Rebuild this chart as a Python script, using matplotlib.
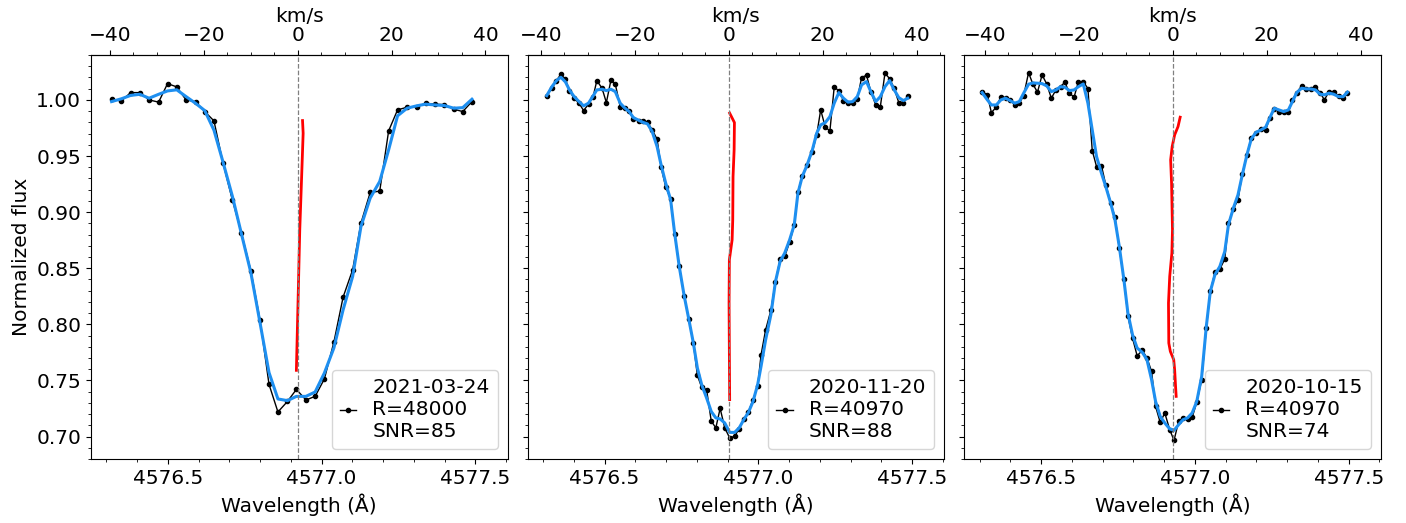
import numpy as np
import matplotlib
matplotlib.use("Agg")
import matplotlib.pyplot as plt
from matplotlib.ticker import AutoMinorLocator

C_KMS = 299792.458

# ---- panel 1: 2021-03-24 ----
wave1 = [4576.317, 4576.349, 4576.379, 4576.409, 4576.439, 4576.470, 4576.499, 4576.529,
         4576.559, 4576.590, 4576.620, 4576.650, 4576.679, 4576.710, 4576.739, 4576.770,
         4576.800, 4576.829, 4576.858, 4576.889, 4576.918, 4576.949, 4576.979, 4577.009,
         4577.040, 4577.070, 4577.101, 4577.128, 4577.158, 4577.189, 4577.218, 4577.247,
         4577.278, 4577.309, 4577.338, 4577.369, 4577.399, 4577.430, 4577.459, 4577.489]
flux1 = [1.0006, 0.9991, 1.0065, 1.0065, 1.0000, 0.9980, 1.0145, 1.0116,
         1.0000, 0.9985, 0.9896, 0.9813, 0.9442, 0.9107, 0.8818, 0.8477,
         0.8035, 0.7465, 0.7219, 0.7313, 0.7420, 0.7326, 0.7358, 0.7513,
         0.7842, 0.8243, 0.8486, 0.8902, 0.9175, 0.9187, 0.9724, 0.9911,
         0.9935, 0.9935, 0.9971, 0.9962, 0.9958, 0.9917, 0.9896, 0.9985]
smooth1 = [0.9985, 1.0010, 1.0040, 1.0050, 1.0015, 1.0050, 1.0080, 1.0090,
           1.0030, 0.9970, 0.9905, 0.9730, 0.9450, 0.9140, 0.8810, 0.8460,
           0.8010, 0.7570, 0.7335, 0.7320, 0.7358, 0.7358, 0.7397, 0.7566,
           0.7790, 0.8130, 0.8427, 0.8872, 0.9125, 0.9273, 0.9555, 0.9858,
           0.9926, 0.9947, 0.9962, 0.9955, 0.9950, 0.9926, 0.9931, 1.0006]
bis_wave1 = [4576.938, 4576.940, 4576.937, 4576.929, 4576.922, 4576.918]
bis_flux1 = [0.9816, 0.9703, 0.9466, 0.8842, 0.8041, 0.7590]

# ---- panel 2: 2020-11-20 ----
wave2 = [4576.312, 4576.329, 4576.343, 4576.358, 4576.373, 4576.386, 4576.401, 4576.417,
         4576.432, 4576.448, 4576.463, 4576.475, 4576.492, 4576.506, 4576.521, 4576.535,
         4576.551, 4576.565, 4576.580, 4576.594, 4576.611, 4576.625, 4576.640, 4576.655,
         4576.671, 4576.684, 4576.699, 4576.715, 4576.728, 4576.743, 4576.759, 4576.774,
         4576.789, 4576.802, 4576.816, 4576.832, 4576.847, 4576.862, 4576.876, 4576.891,
         4576.907, 4576.923, 4576.938, 4576.953, 4576.968, 4576.983, 4576.998, 4577.009,
         4577.024, 4577.041, 4577.056, 4577.071, 4577.086, 4577.102, 4577.117, 4577.129,
         4577.143, 4577.159, 4577.176, 4577.190, 4577.203, 4577.218, 4577.233, 4577.247,
         4577.262, 4577.277, 4577.292, 4577.307, 4577.322, 4577.336, 4577.352, 4577.366,
         4577.382, 4577.397, 4577.412, 4577.427, 4577.441, 4577.457, 4577.472, 4577.486]
flux2 = [1.0038, 1.0104, 1.0169, 1.0229, 1.0184, 1.0080, 1.0015, 0.9971,
         0.9905, 0.9962, 1.0029, 1.0172, 1.0104, 0.9976, 1.0178, 1.0142,
         0.9940, 0.9926, 0.9902, 0.9828, 0.9816, 0.9813, 0.9801, 0.9733,
         0.9650, 0.9401, 0.9225, 0.9116, 0.8807, 0.8516, 0.8255, 0.8047,
         0.7833, 0.7545, 0.7438, 0.7418, 0.7139, 0.7077, 0.7251, 0.7077,
         0.6988, 0.7002, 0.7070, 0.7157, 0.7219, 0.7329, 0.7447, 0.7727,
         0.7952, 0.8124, 0.8379, 0.8581, 0.8605, 0.8733, 0.8882, 0.9175,
         0.9323, 0.9421, 0.9540, 0.9688, 0.9911, 0.9757, 0.9724, 1.0116,
         1.0080, 0.9994, 0.9971, 0.9976, 1.0006, 1.0199, 1.0220, 1.0074,
         0.9955, 0.9940, 1.0238, 1.0190, 1.0110, 0.9976, 0.9976, 1.0036]
smooth2 = [1.0038, 1.0118, 1.0170, 1.0202, 1.0160, 1.0089, 1.0030, 0.9985,
           0.9947, 0.9971, 1.0036, 1.0089, 1.0095, 1.0083, 1.0095, 1.0074,
           0.9971, 0.9930, 0.9896, 0.9842, 0.9819, 0.9800, 0.9786, 0.9718,
           0.9584, 0.9421, 0.9258, 0.9110, 0.8813, 0.8516, 0.8255, 0.8047,
           0.7833, 0.7611, 0.7462, 0.7344, 0.7224, 0.7166, 0.7157, 0.7121,
           0.7037, 0.7037, 0.7077, 0.7151, 0.7215, 0.7313, 0.7462, 0.7625,
           0.7863, 0.8085, 0.8382, 0.8560, 0.8635, 0.8753, 0.8887, 0.9169,
           0.9317, 0.9421, 0.9555, 0.9703, 0.9777, 0.9798, 0.9851, 0.9971,
           1.0065, 1.0015, 0.9980, 0.9985, 1.0029, 1.0134, 1.0163, 1.0074,
           0.9985, 1.0029, 1.0118, 1.0172, 1.0095, 1.0020, 0.9994, 1.0015]
bis_wave2 = [4576.907, 4576.9225, 4576.9215, 4576.918, 4576.917, 4576.915,
             4576.906, 4576.905, 4576.906, 4576.907]
bis_flux2 = [0.9882, 0.9798, 0.9555, 0.9317, 0.8931, 0.8753,
             0.8575, 0.8190, 0.7745, 0.7329]

# ---- panel 3: 2020-10-15 ----
wave3 = [4576.308, 4576.325, 4576.338, 4576.354, 4576.369, 4576.384, 4576.399, 4576.414,
         4576.429, 4576.443, 4576.459, 4576.473, 4576.488, 4576.503, 4576.518, 4576.533,
         4576.548, 4576.563, 4576.577, 4576.592, 4576.607, 4576.621, 4576.637, 4576.652,
         4576.666, 4576.680, 4576.696, 4576.710, 4576.726, 4576.740, 4576.754, 4576.769,
         4576.782, 4576.797, 4576.812, 4576.829, 4576.844, 4576.859, 4576.872, 4576.887,
         4576.902, 4576.918, 4576.932, 4576.947, 4576.961, 4576.976, 4576.991, 4577.006,
         4577.022, 4577.037, 4577.050, 4577.065, 4577.081, 4577.097, 4577.109, 4577.125,
         4577.140, 4577.154, 4577.169, 4577.183, 4577.198, 4577.215, 4577.230, 4577.243,
         4577.258, 4577.273, 4577.289, 4577.304, 4577.317, 4577.331, 4577.347, 4577.361,
         4577.376, 4577.392, 4577.407, 4577.421, 4577.436, 4577.451, 4577.467, 4577.482,
         4577.496]
flux3 = [1.0074, 1.0045, 0.9887, 0.9935, 1.0029, 1.0020, 1.0000, 0.9955,
         0.9971, 1.0038, 1.0243, 1.0140, 1.0069, 1.0223, 1.0142, 1.0015,
         1.0089, 1.0118, 1.0158, 1.0060, 1.0024, 1.0163, 1.0163, 1.0101,
         0.9549, 0.9406, 0.9415, 0.9243, 0.9085, 0.8955, 0.8679, 0.8403,
         0.8077, 0.7878, 0.7720, 0.7768, 0.7700, 0.7581, 0.7269, 0.7126,
         0.7210, 0.7061, 0.6966, 0.7135, 0.7166, 0.7159, 0.7171, 0.7305,
         0.7507, 0.7967, 0.8293, 0.8462, 0.8492, 0.8581, 0.8905, 0.9027,
         0.9110, 0.9341, 0.9510, 0.9659, 0.9703, 0.9742, 0.9733, 0.9837,
         0.9917, 0.9896, 0.9896, 0.9890, 1.0000, 1.0065, 1.0125, 1.0095,
         1.0095, 1.0113, 1.0065, 1.0000, 1.0074, 1.0069, 1.0038, 1.0015,
         1.0060]
smooth3 = [1.0065, 1.0000, 0.9955, 0.9955, 1.0000, 1.0015, 0.9994, 0.9971,
           0.9985, 1.0060, 1.0140, 1.0151, 1.0149, 1.0145, 1.0125, 1.0074,
           1.0089, 1.0118, 1.0113, 1.0083, 1.0089, 1.0118, 1.0142, 0.9971,
           0.9733, 0.9495, 0.9347, 0.9228, 0.9080, 0.8931, 0.8694, 0.8397,
           0.8100, 0.7907, 0.7789, 0.7750, 0.7685, 0.7507, 0.7313, 0.7180,
           0.7121, 0.7068, 0.7055, 0.7106, 0.7150, 0.7166, 0.7210, 0.7313,
           0.7536, 0.7981, 0.8293, 0.8442, 0.8516, 0.8649, 0.8887, 0.9036,
           0.9154, 0.9332, 0.9510, 0.9650, 0.9709, 0.9733, 0.9757, 0.9837,
           0.9926, 0.9911, 0.9896, 0.9911, 0.9985, 1.0065, 1.0104, 1.0098,
           1.0098, 1.0089, 1.0051, 1.0045, 1.0060, 1.0051, 1.0029, 1.0029,
           1.0069]
bis_wave3 = [4576.952, 4576.945, 4576.934, 4576.926, 4576.921, 4576.924, 4576.927, 4576.925,
             4576.918, 4576.914, 4576.915, 4576.920, 4576.931, 4576.934, 4576.937, 4576.939]
bis_flux3 = [0.9846, 0.9762, 0.9688, 0.9584, 0.9466, 0.9258, 0.8842, 0.8635,
             0.8427, 0.8190, 0.7833, 0.7759, 0.7685, 0.7596, 0.7447, 0.7358]

rest_waves = [4576.922, 4576.904, 4576.928]
labels = ["2021-03-24\nR=48000\nSNR=85",
          "2020-11-20\nR=40970\nSNR=88",
          "2020-10-15\nR=40970\nSNR=74"]

panels = [(wave1, flux1, smooth1, bis_wave1, bis_flux1),
          (wave2, flux2, smooth2, bis_wave2, bis_flux2),
          (wave3, flux3, smooth3, bis_wave3, bis_flux3)]

FS = 14.5
plt.rcParams["font.size"] = FS

fig, axes = plt.subplots(1, 3, figsize=(14.06, 5.23), dpi=100, sharey=True)
fig.subplots_adjust(left=0.0647, right=0.9822, bottom=0.1224, top=0.8948, wspace=0.048)

for ax, (w, f, s, bw, bf), l0, lab in zip(axes, panels, rest_waves, labels):
    ax.plot(w, f, "-o", color="black", lw=1, ms=3, label=lab)
    ax.plot(w, s, color="#1E8FF0", lw=2.2)
    ax.plot(bw, bf, color="red", lw=2)
    ax.axvline(l0, color="gray", ls="--", lw=0.9)
    ax.set_xlim(4576.25, 4577.605)
    ax.set_ylim(0.680, 1.040)
    ax.set_xticks([4576.5, 4577.0, 4577.5])
    ax.xaxis.set_minor_locator(AutoMinorLocator())
    ax.yaxis.set_minor_locator(AutoMinorLocator())
    ax.tick_params(labelsize=FS)
    ax.set_xlabel("Wavelength (Å)", fontsize=FS)
    ax.legend(loc="lower right", fontsize=FS, handlelength=0.8, numpoints=1,
              handletextpad=0.8, borderpad=0.4)

    sec = ax.secondary_xaxis(
        "top",
        functions=(lambda x, l0=l0: C_KMS * (x - l0) / l0,
                   lambda v, l0=l0: l0 * (1 + v / C_KMS)))
    sec.set_xticks([-40, -20, 0, 20, 40])
    sec.xaxis.set_minor_locator(AutoMinorLocator())
    sec.tick_params(labelsize=FS)
    sec.set_xlabel("km/s", fontsize=FS, labelpad=3)

axes[0].set_ylabel("Normalized flux", fontsize=FS)

plt.savefig("out.png", dpi=100)
